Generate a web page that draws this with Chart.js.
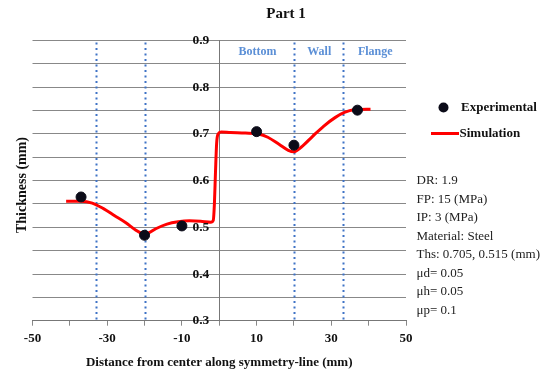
<!DOCTYPE html>
<html>
<head>
<meta charset="utf-8">
<script src="https://cdn.jsdelivr.net/npm/chart.js@4/dist/chart.umd.min.js"></script>
<style>
  html, body { margin: 0; padding: 0; background: #fff; }
  #wrap { position: relative; width: 547px; height: 374px; }
</style>
</head>
<body>
<div id="wrap"><canvas id="chart" width="547" height="374"></canvas></div>
<script>
// Measured thickness along the symmetry line
const expX = [-37, -20, -10, 10, 20, 37];
const expY = [0.565, 0.483, 0.503, 0.705, 0.676, 0.751];

// Simulated thickness profile
const simX = [-41, -37, -34, -31, -28, -25, -22.5, -20.5, -19, -17, -14, -11, -8, -5, -2.2, -1.6, -1.3, -1.0, -0.7, -0.3, 0.5, 3, 7, 10.5, 13, 16, 18.5, 20, 22, 25, 28, 31, 33.5, 36, 40.5];
const simY = [0.556, 0.556, 0.552, 0.540, 0.525, 0.510, 0.495, 0.487, 0.488, 0.497, 0.507, 0.512, 0.514, 0.513, 0.511, 0.515, 0.550, 0.620, 0.680, 0.700, 0.704, 0.703, 0.702, 0.700, 0.693, 0.678, 0.665, 0.662, 0.672, 0.695, 0.717, 0.735, 0.746, 0.752, 0.753];

// Region boundaries and their names
const regionBounds = [-33, -20, 20, 33];
const regionNames = ['Bottom', 'Wall', 'Flange'];
const regionSpans = [[0, 20], [20, 33], [33, 50]];

// Labelled ticks
const xTickLabels = [-50, -30, -10, 10, 30, 50];
const yTickLabels = [0.3, 0.4, 0.5, 0.6, 0.7, 0.8, 0.9];

// Process parameters listed beside the plot
const paramLines = ['DR: 1.9', 'FP: 15 (MPa)', 'IP: 3 (MPa)', 'Material: Steel', 'Ths: 0.705, 0.515 (mm)', '\u03bcd= 0.05', '\u03bch= 0.05', '\u03bcp= 0.1'];

const chartTitle = 'Part 1';
const xTitle = 'Distance from center along symmetry-line (mm)';
const yTitle = 'Thickness (mm)';

const SERIF = "'Liberation Serif', 'Times New Roman', serif";
const BLUE_LINE = '#3f73c6';
const BLUE_TEXT = '#5b8fd6';
const GRID = '#888';

const overlay = {
  id: 'overlay',
  beforeDatasetsDraw(chart) {
    const { ctx, scales: { x, y } } = chart;
    ctx.save();
    // dotted region boundaries
    ctx.strokeStyle = BLUE_LINE;
    ctx.lineWidth = 2;
    ctx.setLineDash([2, 3.5]);
    regionBounds.forEach(b => {
      const px = Math.round(x.getPixelForValue(b)) + 0.5;
      ctx.beginPath();
      ctx.moveTo(px, y.getPixelForValue(0.9) + 2);
      ctx.lineTo(px, y.getPixelForValue(0.3));
      ctx.stroke();
    });
    ctx.setLineDash([]);
    // region names
    ctx.fillStyle = BLUE_TEXT;
    ctx.font = 'bold 12px ' + SERIF;
    ctx.textAlign = 'center';
    ctx.textBaseline = 'middle';
    regionNames.forEach((n, i) => {
      const cx = (x.getPixelForValue(regionSpans[i][0]) + x.getPixelForValue(regionSpans[i][1])) / 2 + 1;
      ctx.fillText(n, cx, y.getPixelForValue(0.875));
    });
    ctx.restore();
  },
  afterDraw(chart) {
    const { ctx, scales: { x, y } } = chart;
    ctx.save();
    ctx.fillStyle = '#111';
    ctx.textBaseline = 'middle';
    // y tick labels, left of the axis at x = 0
    ctx.font = 'bold 13.5px ' + SERIF;
    ctx.textAlign = 'right';
    const axisX = x.getPixelForValue(0);
    yTickLabels.forEach(v => ctx.fillText(v.toFixed(1), axisX - 10, y.getPixelForValue(v)));
    // title
    ctx.font = 'bold 15px ' + SERIF;
    ctx.textAlign = 'center';
    ctx.fillText(chartTitle, 286, 14);
    // axis titles
    ctx.font = 'bold 13px ' + SERIF;
    ctx.fillText(xTitle, (chart.chartArea.left + chart.chartArea.right) / 2, 363);
    ctx.save();
    ctx.translate(22, 185);
    ctx.rotate(-Math.PI / 2);
    ctx.font = 'bold 14px ' + SERIF;
    ctx.fillText(yTitle, 0, 0);
    ctx.restore();
    // legend
    const exp = chart.data.datasets[0];
    const sim = chart.data.datasets[1];
    ctx.textAlign = 'left';
    ctx.beginPath();
    ctx.fillStyle = exp.backgroundColor;
    ctx.arc(443.5, 107.5, exp.pointRadius, 0, Math.PI * 2);
    ctx.fill();
    ctx.fillStyle = '#111';
    ctx.font = 'bold 13px ' + SERIF;
    ctx.fillText(exp.label, 461, 107.5);
    ctx.strokeStyle = sim.borderColor;
    ctx.lineWidth = sim.borderWidth;
    ctx.beginPath();
    ctx.moveTo(431, 133.5);
    ctx.lineTo(459, 133.5);
    ctx.stroke();
    ctx.fillText(sim.label, 459.5, 133.5);
    // parameters
    ctx.font = '13px ' + SERIF;
    ctx.fillStyle = '#222';
    paramLines.forEach((t, i) => ctx.fillText(t, 416.5, 181 + i * 18.5));
    ctx.restore();
  }
};

new Chart(document.getElementById('chart'), {
  type: 'scatter',
  data: {
    datasets: [
      {
        label: 'Experimental',
        data: expX.map((v, i) => ({ x: v, y: expY[i] })),
        backgroundColor: '#0b0b18',
        borderColor: '#0b0b18',
        pointRadius: 5,
        pointHoverRadius: 5,
        showLine: false,
        order: 0
      },
      {
        label: 'Simulation',
        data: simX.map((v, i) => ({ x: v, y: simY[i] })),
        borderColor: '#ff0000',
        backgroundColor: '#ff0000',
        borderWidth: 3,
        pointRadius: 0,
        showLine: true,
        cubicInterpolationMode: 'monotone',
        order: 1
      }
    ]
  },
  options: {
    responsive: false,
    animation: false,
    events: [],
    layout: { padding: { top: 40.6, left: 32.5, right: 141, bottom: 0 } },
    plugins: { legend: { display: false }, title: { display: false }, tooltip: { enabled: false } },
    scales: {
      x: {
        type: 'linear',
        position: 'bottom',
        min: -50,
        max: 50,
        afterFit(scale) { scale.height = 53.3; },
        grid: { drawOnChartArea: false, drawTicks: true, tickLength: 5, color: GRID },
        border: { display: true, color: '#777', width: 1 },
        ticks: {
          stepSize: 10,
          autoSkip: false,
          maxRotation: 0,
          padding: 5,
          color: '#111',
          font: { family: SERIF, size: 13, weight: 'bold' },
          callback: v => (xTickLabels.includes(v) ? String(v) : '')
        }
      },
      y: {
        type: 'linear',
        position: { x: 0 },
        min: 0.3,
        max: 0.9,
        grid: { drawTicks: false, color: GRID, lineWidth: 1 },
        border: { display: true, color: '#777', width: 1 },
        ticks: { stepSize: 0.05, display: false }
      }
    }
  },
  plugins: [overlay]
});
</script>
</body>
</html>
